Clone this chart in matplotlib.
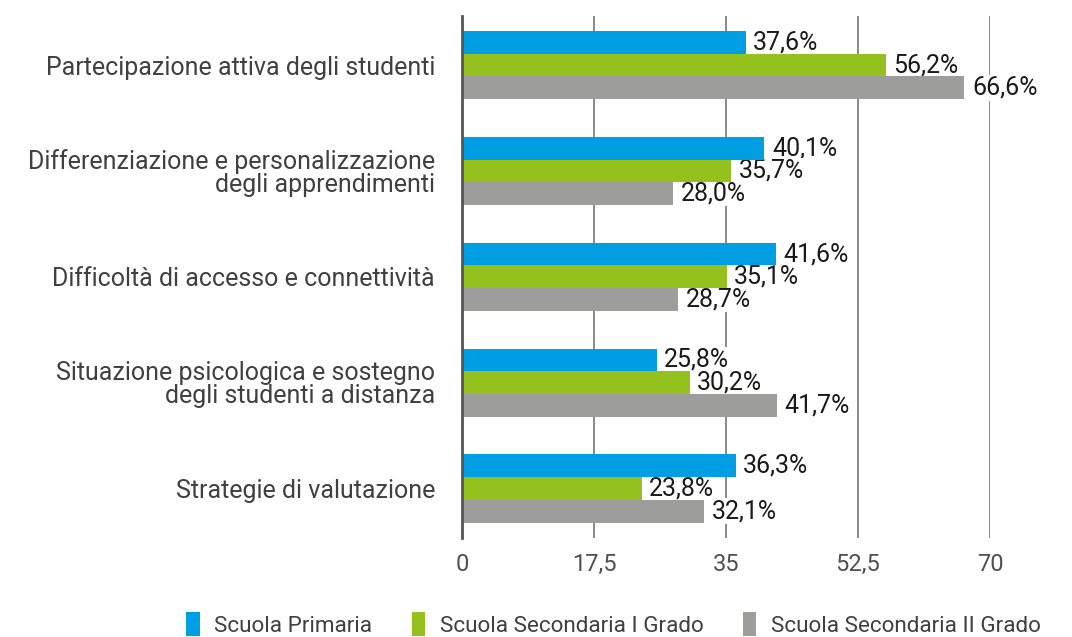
import matplotlib
matplotlib.use("Agg")
import matplotlib.pyplot as plt
from matplotlib.patches import Patch
import numpy as np

# data
categories = [
    "Partecipazione attiva degli studenti",
    "Differenziazione e personalizzazione\ndegli apprendimenti",
    "Difficoltà di accesso e connettività",
    "Situazione psicologica e sostegno\ndegli studenti a distanza",
    "Strategie di valutazione",
]
series_names = ["Scuola Primaria", "Scuola Secondaria I Grado", "Scuola Secondaria II Grado"]
primaria = [37.6, 40.1, 41.6, 25.8, 36.3]
sec_1 = [56.2, 35.7, 35.1, 30.2, 23.8]
sec_2 = [66.6, 28.0, 28.7, 41.7, 32.1]
xticks = [0, 17.5, 35, 52.5, 70]
xtick_labels = ["0", "17,5", "35", "52,5", "70"]

colors = ["#009fe3", "#95c11f", "#9d9d9c"]
fam = ["Roboto", "DejaVu Sans"]

fig = plt.figure(figsize=(10.72, 6.37), dpi=100)
ax = fig.add_axes([462 / 1072, (637 - 537.5) / 637, 528 / 1072, 521.5 / 637])

y = np.arange(len(categories))
h = 0.2145
for i, vals in enumerate([primaria, sec_1, sec_2]):
    ypos = y + (i - 1) * h
    ax.barh(ypos, vals, height=h, color=colors[i], zorder=3)
    # labels sit under the bars but over the grid (white box hides gridlines)
    for yy, v in zip(ypos, vals):
        ax.text(v + 1.0, yy, f"{v:.1f}%".replace(".", ","), va="center", ha="left",
                fontsize=18, color="#1a1a1a", family=fam, zorder=2,
                bbox=dict(facecolor="white", edgecolor="none", pad=0.5))

ax.set_xlim(0, 70)
ax.set_ylim(4.4634, -0.4634)
ax.set_xticks(xticks)
ax.set_xticklabels(xtick_labels, fontsize=17, color="#505050", family=fam)
ax.set_yticks(y)
ax.set_yticklabels(categories, fontsize=18, color="#404040", family=fam, linespacing=0.95)
ax.tick_params(axis="both", length=0)
ax.tick_params(axis="x", pad=11)
ax.tick_params(axis="y", pad=19.5)
ax.grid(axis="x", color="#808080", linewidth=1.3, zorder=0)
for s in ["top", "right", "bottom"]:
    ax.spines[s].set_visible(False)
ax.spines["left"].set_color("#555555")
ax.spines["left"].set_linewidth(2)
ax.spines["left"].set_zorder(4)
ax.set_facecolor("none")

handles = [Patch(facecolor=c, edgecolor="none") for c in colors]
leg = fig.legend(handles, series_names, loc="center", bbox_to_anchor=(0.5723, 0.02),
                 ncol=3, frameon=False, prop={"family": fam, "size": 16.2},
                 handlelength=0.6, handleheight=1.3, handletextpad=0.65, columnspacing=1.75)
for t in leg.get_texts():
    t.set_color("#404040")

fig.savefig("out.png", dpi=100)
